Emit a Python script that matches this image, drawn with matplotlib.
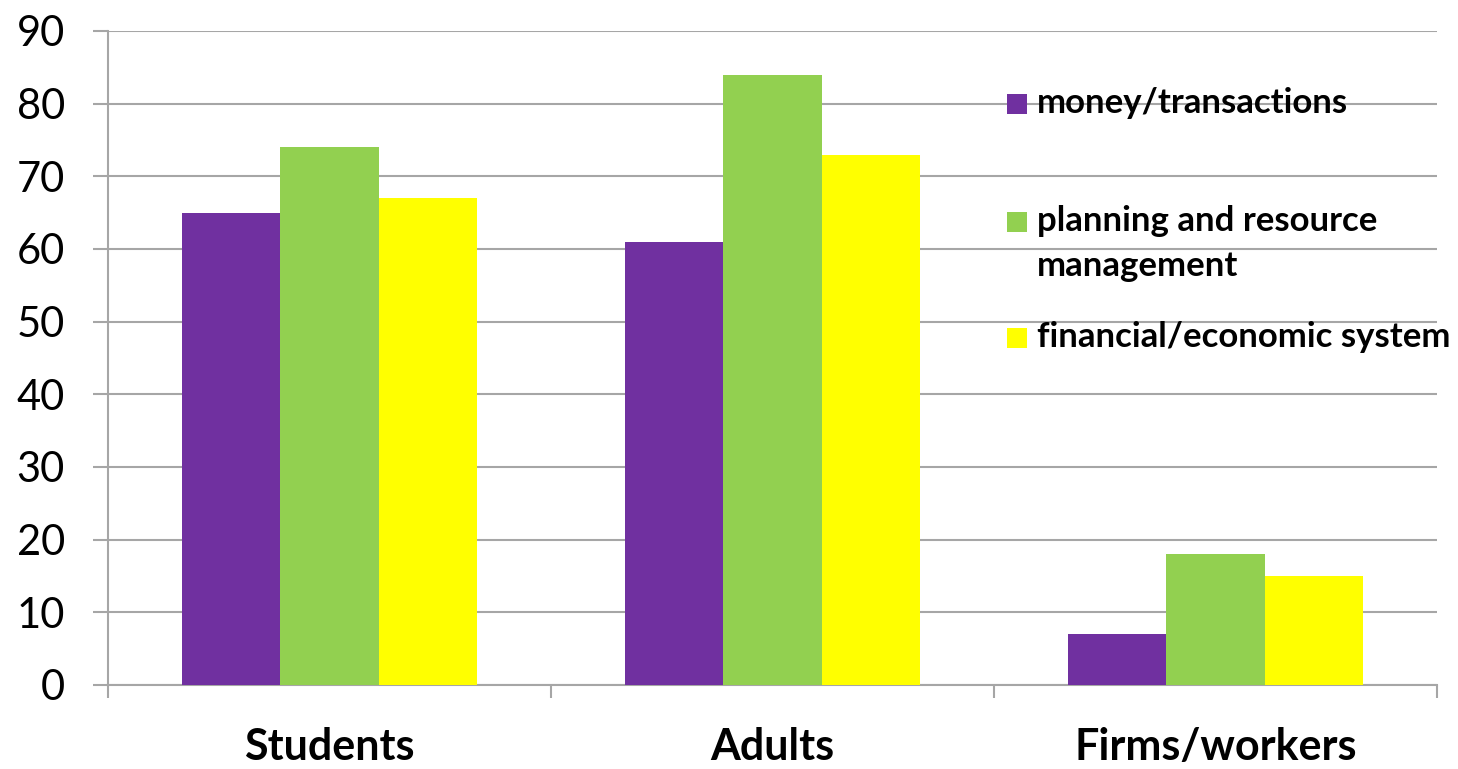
import numpy as np
import matplotlib
matplotlib.use("Agg")
import matplotlib.pyplot as plt
from matplotlib.patches import Rectangle

plt.rcParams["font.family"] = ["Lato", "DejaVu Sans"]

# survey results per group
groups = ["Students", "Adults", "Firms/workers"]
series = ["money/transactions", "planning and resource\nmanagement", "financial/economic system"]
money = [65, 61, 7]
planning = [74, 84, 18]
financial = [67, 73, 15]
colors = ["#7030A0", "#92D050", "#FFFF00"]
yticks = [0, 10, 20, 30, 40, 50, 60, 70, 80, 90]

values = [money, planning, financial]
grid_col = "#a6a6a6"

fig = plt.figure(figsize=(14.58, 7.69), dpi=100)
ax = fig.add_axes([108 / 1458, 1 - 685 / 769, (1437 - 108) / 1458, (685 - 31) / 769])

x = np.arange(len(groups))
w = 0.222
for i, (vals, c) in enumerate(zip(values, colors)):
    ax.bar(x + (i - 1) * w, vals, width=w, color=c, edgecolor="none", zorder=3)

ax.set_xlim(-0.5, len(groups) - 0.5)
ax.set_ylim(0, 90)
ax.set_yticks(yticks)
ax.yaxis.grid(True, color=grid_col, linewidth=1.5, zorder=0)
ax.tick_params(axis="y", length=11, width=1.5, color=grid_col, labelsize=30, pad=20)

# group boundaries as outward ticks, group names centred between them
ax.set_xticks(np.arange(len(groups) + 1) - 0.5)
ax.set_xticklabels([])
ax.tick_params(axis="x", which="major", length=9, width=1.5, color=grid_col)
ax.set_xticks(x, minor=True)
ax.set_xticklabels(groups, minor=True, fontsize=31, fontweight="bold")
ax.tick_params(axis="x", which="minor", length=0, pad=30)

for s in ["top", "right"]:
    ax.spines[s].set_visible(False)
for s in ["left", "bottom"]:
    ax.spines[s].set_color(grid_col)
    ax.spines[s].set_linewidth(1.5)

# legend drawn by hand to the right of the bars;
# baseline alignment uses the last line, so push wrapped labels down
legend_y = [104, 222, 338]
line_step = 45
for name, c, py in zip(series, colors, legend_y):
    fig.patches.append(Rectangle((1007 / 1458, 1 - (py + 10) / 769), 20 / 1458, 20 / 769,
                                 transform=fig.transFigure, facecolor=c, edgecolor="none"))
    base = py + 9 + name.count("\n") * line_step
    fig.text(1037 / 1458, 1 - base / 769, name, fontsize=25, fontweight="bold",
             va="baseline", ha="left", linespacing=1.5)

fig.savefig("out.png", dpi=100)
